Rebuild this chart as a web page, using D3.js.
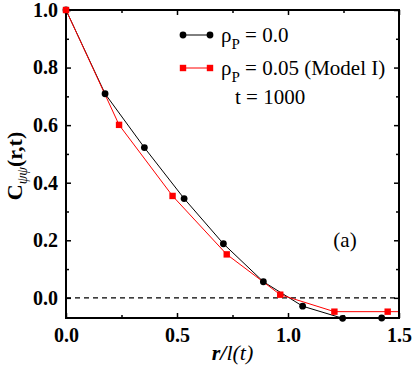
<!DOCTYPE html>
<html>
<head>
<meta charset="utf-8">
<script src="https://cdn.jsdelivr.net/npm/d3@7"></script>
<style>
  body { margin: 0; background: #fff; }
  svg { display: block; }
  text { font-family: "Liberation Serif", "Times New Roman", serif; }
</style>
</head>
<body>
<div id="chart"></div>
<script>
// rho_P = 0.0
var blackX = [0, 0.176, 0.353, 0.532, 0.709, 0.889, 1.066, 1.246, 1.422];
var blackY = [1.0, 0.709, 0.522, 0.345, 0.188, 0.056, -0.029, -0.071, -0.070];
// rho_P = 0.05 (Model I)
var redX = [0, 0.239, 0.480, 0.724, 0.965, 1.209, 1.449, 1.69];
var redY = [1.0, 0.601, 0.354, 0.151, 0.011, -0.048, -0.048, -0.048];

var xTicks = [0.0, 0.5, 1.0, 1.5];
var yTicks = [0.0, 0.2, 0.4, 0.6, 0.8, 1.0];
var xMinor = [0.25, 0.75, 1.25];
var yMinor = [0.1, 0.3, 0.5, 0.7, 0.9];

var W = 415, H = 368,
    mLeft = 66, mRight = 399, mTop = 10, mBottom = 318;

var svg = d3.select("#chart").append("svg")
    .attr("width", W)
    .attr("height", H)
    .attr("font-family", "Liberation Serif, serif");

var x = d3.scaleLinear().domain([0, 1.5]).range([mLeft, mRight]);
var y = d3.scaleLinear().domain([-0.07, 1.0]).range([mBottom, mTop]);

svg.append("clipPath").attr("id", "plot")
    .append("rect")
    .attr("x", mLeft).attr("y", mTop)
    .attr("width", mRight - mLeft).attr("height", mBottom - mTop);

// zero line
svg.append("line")
    .attr("x1", mLeft).attr("x2", mRight)
    .attr("y1", y(0)).attr("y2", y(0))
    .attr("stroke", "#000")
    .attr("stroke-width", 1.2)
    .attr("stroke-dasharray", "5,4");

var line = d3.line()
    .x(function (d) { return x(d[0]); })
    .y(function (d) { return y(d[1]); });

var blackData = blackX.map(function (v, i) { return [v, blackY[i]]; });
var redData = redX.map(function (v, i) { return [v, redY[i]]; });

svg.append("path")
    .datum(blackData)
    .attr("d", line)
    .attr("clip-path", "url(#plot)")
    .attr("fill", "none")
    .attr("stroke", "#000")
    .attr("stroke-width", 1);

svg.append("path")
    .datum(redData)
    .attr("d", line)
    .attr("clip-path", "url(#plot)")
    .attr("fill", "none")
    .attr("stroke", "#f00")
    .attr("stroke-width", 1);

// axes (ticks inside, on all four sides)
svg.append("g").attr("transform", "translate(0," + mBottom + ")")
    .call(d3.axisBottom(x).tickValues(xTicks).tickFormat(d3.format(".1f")).tickSizeInner(-5).tickSizeOuter(0).tickPadding(10));
svg.append("g").attr("transform", "translate(" + mLeft + ",0)")
    .call(d3.axisLeft(y).tickValues(yTicks).tickFormat(d3.format(".1f")).tickSizeInner(-5).tickSizeOuter(0).tickPadding(8));
svg.append("g").attr("transform", "translate(0," + mTop + ")")
    .call(d3.axisTop(x).tickValues(xTicks).tickFormat("").tickSizeInner(-5).tickSizeOuter(0));
svg.append("g").attr("transform", "translate(" + mRight + ",0)")
    .call(d3.axisRight(y).tickValues(yTicks).tickFormat("").tickSizeInner(-5).tickSizeOuter(0));

svg.append("g").attr("transform", "translate(0," + mBottom + ")")
    .call(d3.axisBottom(x).tickValues(xMinor).tickFormat("").tickSizeInner(-3).tickSizeOuter(0));
svg.append("g").attr("transform", "translate(0," + mTop + ")")
    .call(d3.axisTop(x).tickValues(xMinor).tickFormat("").tickSizeInner(-3).tickSizeOuter(0));
svg.append("g").attr("transform", "translate(" + mLeft + ",0)")
    .call(d3.axisLeft(y).tickValues(yMinor).tickFormat("").tickSizeInner(-3).tickSizeOuter(0));
svg.append("g").attr("transform", "translate(" + mRight + ",0)")
    .call(d3.axisRight(y).tickValues(yMinor).tickFormat("").tickSizeInner(-3).tickSizeOuter(0));

svg.selectAll(".domain").remove();
svg.selectAll(".tick line").attr("stroke", "#000").attr("stroke-width", 1.5);
svg.selectAll(".tick text")
    .attr("font-family", "Liberation Serif, serif")
    .attr("font-size", 20)
    .attr("font-weight", "bold")
    .attr("fill", "#000");

svg.append("rect")
    .attr("x", mLeft).attr("y", mTop)
    .attr("width", mRight - mLeft).attr("height", mBottom - mTop)
    .attr("fill", "none")
    .attr("stroke", "#000")
    .attr("stroke-width", 2);

// markers
svg.selectAll("circle.blk")
    .data(blackData)
    .enter()
    .append("circle")
    .attr("class", "blk")
    .attr("cx", function (d) { return x(d[0]); })
    .attr("cy", function (d) { return y(d[1]); })
    .attr("r", 3.4)
    .attr("fill", "#000");

svg.selectAll("rect.red")
    .data(redData.filter(function (d) { return d[0] <= 1.5; }))
    .enter()
    .append("rect")
    .attr("class", "red")
    .attr("x", function (d) { return x(d[0]) - 3.2; })
    .attr("y", function (d) { return y(d[1]) - 3.2; })
    .attr("width", 6.4)
    .attr("height", 6.4)
    .attr("fill", "#f00");

// legend
var legend = [
    { color: "#000", shape: "circle", y: 35, sub: "P", text: " = 0.0" },
    { color: "#f00", shape: "square", y: 68, sub: "P", text: " = 0.05 (Model I)" }
];
legend.forEach(function (l) {
    svg.append("line")
        .attr("x1", 183).attr("x2", 210)
        .attr("y1", l.y).attr("y2", l.y)
        .attr("stroke", l.color).attr("stroke-width", 1);
    [183, 210].forEach(function (cx) {
        if (l.shape === "circle") {
            svg.append("circle").attr("cx", cx).attr("cy", l.y).attr("r", 3.4).attr("fill", l.color);
        } else {
            svg.append("rect").attr("x", cx - 3.2).attr("y", l.y - 3.2)
                .attr("width", 6.4).attr("height", 6.4).attr("fill", l.color);
        }
    });
    var t = svg.append("text")
        .attr("x", 221).attr("y", l.y + 6.5)
        .attr("font-size", 21)
        .attr("fill", "#000");
    t.append("tspan").text("\u03C1");
    t.append("tspan").attr("font-size", 15).attr("dy", 7).text(l.sub);
    t.append("tspan").attr("dy", -7).text(l.text);
});

svg.append("text")
    .attr("x", 235).attr("y", 104)
    .attr("font-size", 21)
    .text("t = 1000");

svg.append("text")
    .attr("x", 345).attr("y", 247)
    .attr("text-anchor", "middle")
    .attr("font-size", 21)
    .text("(a)");

// axis titles
var xl = svg.append("text")
    .attr("x", (mLeft + mRight) / 2).attr("y", 360)
    .attr("text-anchor", "middle")
    .attr("font-size", 22)
    .attr("font-style", "italic");
xl.append("tspan").attr("font-weight", "bold").text("r/");
xl.append("tspan").text("l(t)");

var yl = svg.append("text")
    .attr("transform", "translate(22,166) rotate(-90)")
    .attr("text-anchor", "middle")
    .attr("font-size", 22)
    .attr("font-weight", "bold");
yl.append("tspan").text("C");
yl.append("tspan").attr("font-size", 14).attr("font-weight", "normal").attr("font-style", "italic").attr("dy", 5).text("\u03C8\u03C8");
yl.append("tspan").attr("dy", -5).text("(r,t)");
</script>
</body>
</html>
